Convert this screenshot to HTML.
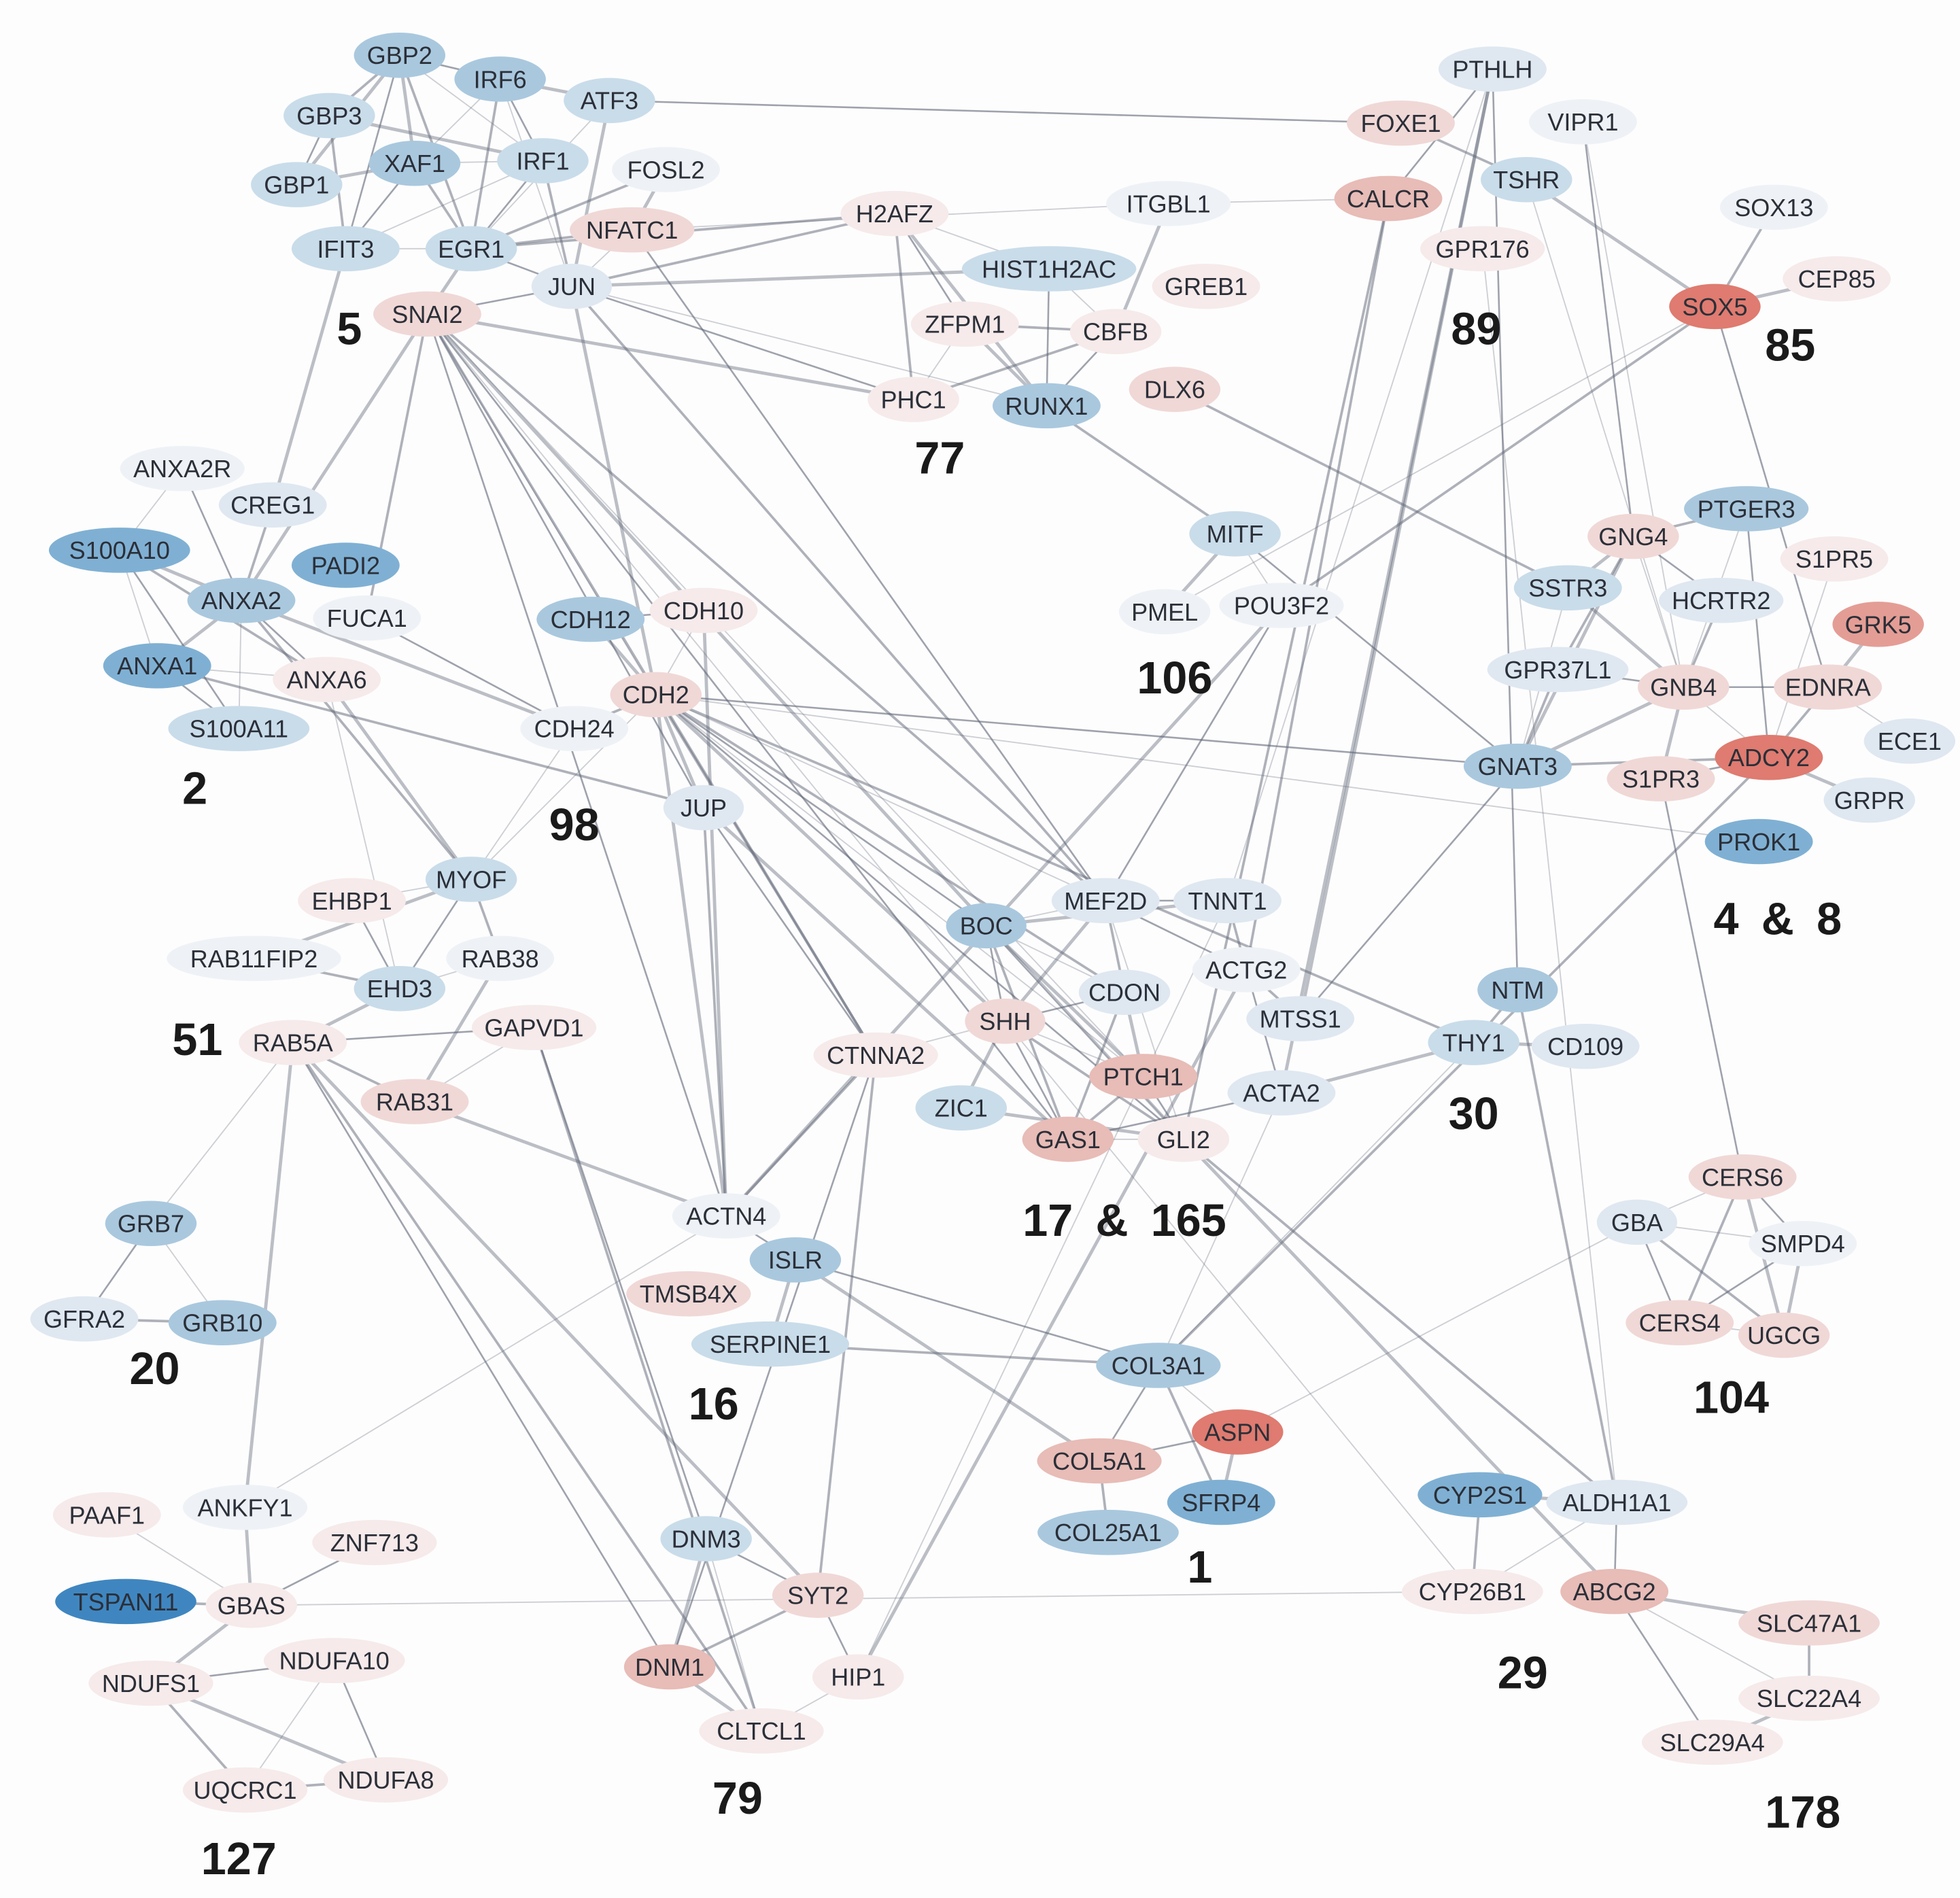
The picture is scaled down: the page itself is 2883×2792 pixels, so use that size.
<!DOCTYPE html>
<html><head><meta charset="utf-8"><style>
html,body{margin:0;padding:0;background:#fdfdfd}
svg{display:block}
</style></head><body>
<svg id="s" xmlns="http://www.w3.org/2000/svg" width="2883" height="2792" viewBox="0 0 1560 1511">
<rect width="1560" height="1511" fill="#fdfdfd"/>
<g id="e"></g><g id="n"></g><g id="l"></g>
</svg>
<script>
const C={w:"#eef2f6",b0:"#dfe8f1",b1:"#c9dcea",b2:"#a9c8de",b3:"#7fb0d3",b4:"#3f86c0",p0:"#f6eaea",p1:"#f0d8d6",p2:"#e8bcb7",r1:"#e49d95",r2:"#df7b70"};
const N={
GBP2:[318,44,"b2"],IRF6:[398,63,"b2"],ATF3:[485,80,"b1"],GBP3:[262,92,"b1"],XAF1:[330,130,"b2"],IRF1:[432,128,"b1"],FOSL2:[530,135,"w"],GBP1:[236,147,"b1"],IFIT3:[275,198,"b1"],EGR1:[375,198,"b1"],NFATC1:[503,183,"p1"],JUN:[455,228,"b0"],SNAI2:[340,250,"p1"],
H2AFZ:[712,170,"p0"],ITGBL1:[930,162,"w"],CALCR:[1105,158,"p2"],FOXE1:[1115,98,"p1"],PTHLH:[1188,55,"b0"],VIPR1:[1260,97,"w"],TSHR:[1215,143,"b1"],GPR176:[1180,198,"p0"],SOX13:[1412,165,"w"],CEP85:[1462,222,"p0"],SOX5:[1365,244,"r2"],
HIST1H2AC:[835,214,"b1"],GREB1:[960,228,"p0"],ZFPM1:[768,258,"p0"],CBFB:[888,264,"p0"],DLX6:[935,310,"p1"],PHC1:[727,318,"p0"],RUNX1:[833,323,"b2"],
ANXA2R:[145,373,"w"],CREG1:[217,402,"b0"],S100A10:[95,438,"b3"],PADI2:[275,450,"b3"],ANXA2:[192,478,"b2"],FUCA1:[292,492,"w"],ANXA1:[125,530,"b3"],ANXA6:[260,541,"p0"],S100A11:[190,580,"b1"],
CDH12:[470,493,"b2"],CDH10:[560,486,"p0"],CDH2:[522,553,"p1"],CDH24:[457,580,"w"],JUP:[560,643,"b0"],
MITF:[983,425,"b1"],PMEL:[927,487,"w"],POU3F2:[1020,482,"w"],
GNG4:[1300,427,"p1"],PTGER3:[1390,405,"b2"],S1PR5:[1460,445,"p0"],SSTR3:[1248,468,"b1"],HCRTR2:[1370,478,"b0"],GRK5:[1495,497,"r1"],GPR37L1:[1240,533,"b0"],GNB4:[1340,547,"p1"],EDNRA:[1455,547,"p1"],ECE1:[1520,590,"b0"],GNAT3:[1208,610,"b2"],S1PR3:[1322,620,"p1"],ADCY2:[1408,603,"r2"],GRPR:[1488,637,"b0"],PROK1:[1400,670,"b3"],
MYOF:[375,700,"b1"],EHBP1:[280,717,"p0"],RAB11FIP2:[202,763,"w"],EHD3:[318,787,"b1"],RAB38:[398,763,"w"],RAB5A:[233,830,"p0"],GAPVD1:[425,818,"p0"],RAB31:[330,877,"p1"],
MEF2D:[880,717,"b0"],TNNT1:[977,717,"b0"],BOC:[785,737,"b2"],ACTG2:[992,772,"w"],CDON:[895,790,"b0"],NTM:[1208,788,"b2"],SHH:[800,813,"p1"],MTSS1:[1035,811,"b0"],CTNNA2:[697,840,"p0"],THY1:[1173,830,"b1"],CD109:[1262,833,"b0"],PTCH1:[910,857,"p2"],ACTA2:[1020,870,"b0"],ZIC1:[765,882,"b1"],GAS1:[850,907,"p2"],GLI2:[942,907,"p0"],
GRB7:[120,974,"b2"],GFRA2:[67,1050,"b0"],GRB10:[177,1053,"b2"],
ACTN4:[578,968,"w"],ISLR:[633,1003,"b2"],TMSB4X:[548,1030,"p1"],SERPINE1:[613,1070,"b1"],
CERS6:[1387,937,"p1"],GBA:[1303,973,"b0"],SMPD4:[1435,990,"w"],CERS4:[1337,1053,"p1"],UGCG:[1420,1063,"p1"],
COL3A1:[922,1087,"b2"],ASPN:[985,1140,"r2"],COL5A1:[875,1163,"p2"],SFRP4:[972,1196,"b3"],COL25A1:[882,1220,"b2"],
CYP2S1:[1178,1190,"b3"],ALDH1A1:[1287,1196,"b0"],
PAAF1:[85,1206,"p0"],ANKFY1:[195,1200,"w"],ZNF713:[298,1228,"p0"],TSPAN11:[100,1275,"b4"],GBAS:[200,1278,"p0"],
DNM3:[562,1225,"b1"],SYT2:[651,1270,"p1"],CYP26B1:[1172,1267,"p0"],ABCG2:[1285,1267,"p2"],SLC47A1:[1440,1292,"p1"],
NDUFA10:[266,1322,"p0"],NDUFS1:[120,1340,"p0"],DNM1:[533,1327,"p2"],HIP1:[683,1335,"p0"],SLC22A4:[1440,1352,"p0"],SLC29A4:[1363,1387,"p0"],CLTCL1:[606,1378,"p0"],UQCRC1:[195,1425,"p0"],NDUFA8:[307,1417,"p0"]
};
const E=`GBP2-IRF6 GBP2-GBP3 GBP2-XAF1 GBP2-IRF1 GBP2-IFIT3 GBP2-EGR1 GBP2-GBP1 IRF6-XAF1 IRF6-IRF1 IRF6-EGR1 IRF6-ATF3 IRF6-JUN GBP3-GBP1 GBP3-IFIT3 GBP3-IRF1 XAF1-IRF1 XAF1-IFIT3 XAF1-EGR1 XAF1-GBP1 IRF1-IFIT3 IRF1-EGR1 IRF1-JUN ATF3-JUN ATF3-EGR1 ATF3-FOXE1 FOSL2-EGR1 FOSL2-NFATC1 EGR1-IFIT3 EGR1-JUN EGR1-NFATC1 EGR1-SNAI2 JUN-NFATC1 JUN-SNAI2 JUN-H2AFZ JUN-HIST1H2AC JUN-RUNX1 JUN-PHC1 JUN-MEF2D JUN-CDH2 NFATC1-ITGBL1 NFATC1-MEF2D EGR1-H2AFZ IFIT3-CREG1 H2AFZ-HIST1H2AC H2AFZ-ZFPM1 H2AFZ-PHC1 H2AFZ-RUNX1 HIST1H2AC-CBFB HIST1H2AC-RUNX1 ZFPM1-CBFB ZFPM1-RUNX1 ZFPM1-PHC1 CBFB-RUNX1 CBFB-PHC1 CBFB-ITGBL1 ITGBL1-CALCR CALCR-PTHLH CALCR-ACTG2 PTHLH-MTSS1 PTHLH-TNNT1 PTHLH-NTM FOXE1-TSHR TSHR-SOX5 VIPR1-GNB4 VIPR1-GNG4 SOX13-SOX5 SOX5-CEP85 SOX5-PMEL SOX5-EDNRA DLX6-SSTR3 SNAI2-PHC1 SNAI2-CDH2 SNAI2-JUP SNAI2-MEF2D SNAI2-GLI2 SNAI2-SHH SNAI2-ACTN4 SNAI2-CTNNA2 SNAI2-ANXA2 SNAI2-PTCH1 SNAI2-GAS1 RUNX1-MITF MITF-PMEL MITF-POU3F2 POU3F2-MEF2D POU3F2-SOX5 POU3F2-ACTN4 ANXA2R-S100A10 ANXA2R-ANXA2 CREG1-ANXA2 S100A10-ANXA2 S100A10-ANXA1 S100A10-S100A11 S100A10-ANXA6 ANXA2-ANXA1 ANXA2-S100A11 ANXA2-ANXA6 ANXA2-MYOF ANXA2-CDH24 ANXA1-ANXA6 ANXA1-S100A11 ANXA1-JUP ANXA6-MYOF ANXA6-EHD3 FUCA1-CDH24 FUCA1-SNAI2 CDH12-CDH2 CDH10-CDH2 CDH12-CDH10 CDH2-CDH24 CDH2-JUP CDH2-MEF2D CDH2-BOC CDH2-CDON CDH2-SHH CDH2-PTCH1 CDH2-GLI2 CDH2-CTNNA2 CDH2-ACTN4 CDH2-PROK1 CDH2-GNAT3 CDH2-THY1 CDH10-ACTN4 CDH24-MYOF JUP-CTNNA2 JUP-ACTN4 JUP-GAS1 MEF2D-BOC MEF2D-TNNT1 MEF2D-CDON MEF2D-SHH MEF2D-GLI2 MEF2D-ACTG2 TNNT1-ACTG2 TNNT1-BOC BOC-CDON BOC-SHH BOC-GAS1 BOC-PTCH1 BOC-GLI2 CDON-SHH CDON-GAS1 CDON-PTCH1 SHH-PTCH1 SHH-GAS1 SHH-GLI2 SHH-ZIC1 SHH-CTNNA2 PTCH1-GLI2 PTCH1-GAS1 GLI2-ZIC1 GAS1-GLI2 ACTG2-ACTA2 ACTG2-MTSS1 ACTA2-THY1 ACTA2-COL3A1 ACTA2-GAS1 THY1-NTM THY1-CD109 THY1-COL3A1 MTSS1-GNAT3 GLI2-ALDH1A1 GLI2-ABCG2 SHH-CYP26B1 ACTN4-ISLR ACTN4-CTNNA2 ACTN4-RAB31 ACTN4-ANKFY1 ISLR-COL3A1 SERPINE1-COL3A1 SERPINE1-ISLR COL3A1-ASPN COL3A1-COL5A1 COL3A1-SFRP4 ASPN-SFRP4 ASPN-GBA ASPN-COL5A1 COL5A1-COL25A1 COL5A1-ISLR MYOF-EHBP1 MYOF-EHD3 MYOF-RAB38 MYOF-RAB11FIP2 MYOF-CDH2 EHBP1-EHD3 RAB11FIP2-EHD3 EHD3-RAB5A EHD3-RAB38 RAB5A-GAPVD1 RAB5A-RAB31 RAB5A-ANKFY1 RAB5A-GRB7 RAB5A-DNM1 RAB5A-CLTCL1 RAB5A-SYT2 GAPVD1-RAB31 GAPVD1-DNM3 GAPVD1-CLTCL1 RAB38-RAB31 GRB7-GRB10 GRB7-GFRA2 GFRA2-GRB10 ANKFY1-GBAS PAAF1-GBAS ZNF713-GBAS TSPAN11-GBAS GBAS-NDUFS1 GBAS-CYP26B1 NDUFS1-NDUFA10 NDUFS1-UQCRC1 NDUFS1-NDUFA8 NDUFA10-UQCRC1 NDUFA10-NDUFA8 UQCRC1-NDUFA8 DNM3-DNM1 DNM3-CLTCL1 DNM3-SYT2 DNM1-SYT2 DNM1-CLTCL1 HIP1-CLTCL1 HIP1-SYT2 SYT2-CTNNA2 HIP1-ACTG2 HIP1-TNNT1 DNM1-CTNNA2 CYP2S1-CYP26B1 CYP2S1-ALDH1A1 ALDH1A1-CYP26B1 ALDH1A1-ABCG2 ALDH1A1-NTM ABCG2-SLC47A1 ABCG2-SLC22A4 ABCG2-SLC29A4 SLC47A1-SLC22A4 SLC22A4-SLC29A4 CERS6-GBA CERS6-SMPD4 CERS6-CERS4 CERS6-UGCG GBA-SMPD4 GBA-CERS4 GBA-UGCG SMPD4-UGCG CERS4-UGCG SMPD4-CERS4 GNG4-PTGER3 GNG4-SSTR3 GNG4-GNB4 GNG4-HCRTR2 GNG4-GPR37L1 GNG4-GNAT3 PTGER3-GNB4 PTGER3-ADCY2 HCRTR2-GNB4 SSTR3-GNB4 SSTR3-GNAT3 GPR37L1-GNB4 GPR37L1-GNAT3 GNB4-GNAT3 GNB4-ADCY2 GNB4-EDNRA EDNRA-ADCY2 EDNRA-GRK5 EDNRA-ECE1 ADCY2-S1PR3 ADCY2-GNAT3 ADCY2-GRPR ADCY2-S1PR5 S1PR3-CERS6 ADCY2-COL3A1 S1PR3-GNB4 TSHR-GNB4 MITF-GNAT3 CALCR-GLI2 PTHLH-ACTA2 GPR176-ALDH1A1`.split(/\s+/);
const ns="http://www.w3.org/2000/svg";
function mk(t,a,p,tx){const el=document.createElementNS(ns,t);for(const k in a)el.setAttribute(k,a[k]);if(tx)el.textContent=tx;document.getElementById(p).appendChild(el);}
let i=0;
for(const pr of E){const [a,b]=pr.split("-");const A=N[a],B=N[b];if(!A||!B)continue;i++;
const w=[1,1.4,2,2.6][i%4];const o=[.3,.42,.5,.6][(i*7)%4];
mk("line",{x1:A[0],y1:A[1],x2:B[0],y2:B[1],stroke:"#5f6676","stroke-width":w,"stroke-opacity":o},"e");}
for(const k in N){const [x,y,c]=N[k];const rx=Math.max(32,k.length*6.6+10);
mk("ellipse",{cx:x,cy:y,rx:rx,ry:18,fill:C[c]},"n");
mk("text",{x:x,y:y+7,"text-anchor":"middle","font-family":"Liberation Sans, sans-serif","font-size":19.5,fill:"#2b2f38"},"n",k);}
const L=[["5",278,262],["89",1175,262],["85",1425,275],["77",748,365],["2",155,628],["98",457,657],["106",935,540],["4 & 8",1415,732],["51",157,828],["30",1173,887],["17 & 165",895,972],["20",123,1090],["16",568,1118],["104",1378,1113],["1",955,1248],["29",1212,1332],["79",587,1432],["178",1435,1443],["127",190,1480]];
for(const [t,x,y] of L)mk("text",{x:x,y:y+12,"text-anchor":"middle","font-family":"Liberation Sans, sans-serif","font-size":36,"font-weight":"bold",fill:"#1a1a1a","xml:space":"preserve","word-spacing":"8"},"l",t);
</script>
</body></html>
